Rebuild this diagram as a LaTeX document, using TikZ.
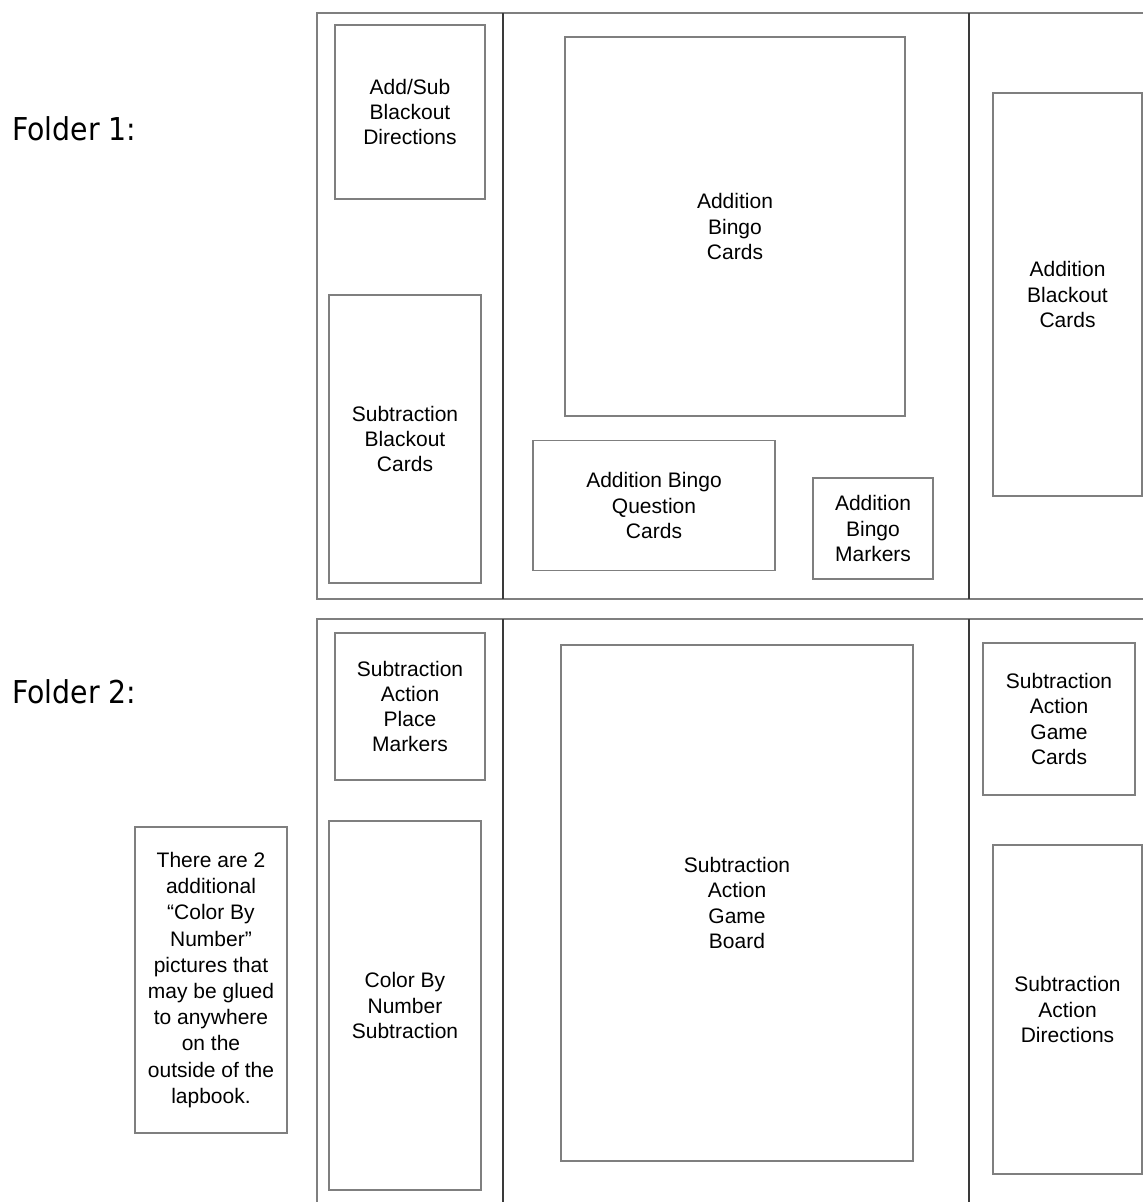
\documentclass[tikz,border=0pt]{standalone}
\usepackage{fontspec}
\setmainfont{Liberation Sans}
\newfontfamily\labelfont{DejaVu Sans Condensed}
\begin{document}
\begin{tikzpicture}[x=1pt,y=-1pt,
  cardbox/.style={draw=boxgray, line width=1.3pt, inner sep=0pt, align=center,
    font=\fontsize{21}{25.3}\selectfont},
  folderline/.style={draw=boxgray, line width=1.3pt},
  divider/.style={draw=divgray, line width=1.4pt},
  folderlabel/.style={anchor=base west, inner sep=0pt, font=\labelfont\fontsize{31.5}{36}\selectfont}
]
\definecolor{boxgray}{HTML}{7F7F7F}
\definecolor{divgray}{HTML}{3A3A3A}
\useasboundingbox (0,0) rectangle (1143,1202);
\clip (0,0) rectangle (1143,1202);
\fill[white] (0,0) rectangle (1143,1202);

% folder labels
\node[folderlabel] (f1) at (12,140) {Folder 1:};
\node[folderlabel] (f2) at (12,703) {Folder 2:};

% folder outlines
\draw[folderline] (1160,13) -- (317,13) -- (317,599) -- (1160,599);
\draw[folderline] (1160,619) -- (317,619) -- (317,1215);
\coordinate (d1t) at (503,13); \coordinate (d1b) at (503,599);
\coordinate (d2t) at (969,13); \coordinate (d2b) at (969,599);
\coordinate (d3t) at (503,619); \coordinate (d3b) at (503,1215);
\coordinate (d4t) at (969,619); \coordinate (d4b) at (969,1215);
\draw[divider] (d1t) -- (d1b);
\draw[divider] (d2t) -- (d2b);
\draw[divider] (d3t) -- (d3b);
\draw[divider] (d4t) -- (d4b);

% folder 1 cards
\node[cardbox, minimum width=150, minimum height=174] (addsub) at (410,112) {Add/Sub\\Blackout\\Directions};
\node[cardbox, minimum width=152, minimum height=288] (subblack) at (405,439) {Subtraction\\Blackout\\Cards};
\node[cardbox, minimum width=340, minimum height=379] (addbingo) at (735,226.5) {Addition\\Bingo\\Cards};
\node[cardbox, minimum width=242, minimum height=130] (question) at (654,505.5) {Addition Bingo\\Question\\Cards};
\node[cardbox, minimum width=120, minimum height=101] (markers) at (873,528.5) {Addition\\Bingo\\Markers};
\node[cardbox, minimum width=149, minimum height=403] (addblack) at (1067.5,294.5) {Addition\\Blackout\\Cards};

% folder 2 cards
\node[cardbox, minimum width=150, minimum height=147] (place) at (410,706.5) {Subtraction\\Action\\Place\\Markers};
\node[cardbox, minimum width=152, minimum height=369] (colorby) at (405,1005.5) {Color By\\Number\\Subtraction};
\node[cardbox, minimum width=352, minimum height=516] (board) at (737,903) {Subtraction\\Action\\Game\\Board};
\node[cardbox, minimum width=152, minimum height=152] (gamecards) at (1059,719) {Subtraction\\Action\\Game\\Cards};
\node[cardbox, minimum width=149, minimum height=329] (directions) at (1067.5,1009.5) {Subtraction\\Action\\Directions};

% note
\node[cardbox, minimum width=152, minimum height=306, font=\fontsize{21}{26.2}\selectfont] (note) at (211,980) {There are 2\\additional\\“Color By\\Number”\\pictures that\\may be glued\\to anywhere\\on the\\outside of the\\lapbook.};
\end{tikzpicture}
\end{document}
